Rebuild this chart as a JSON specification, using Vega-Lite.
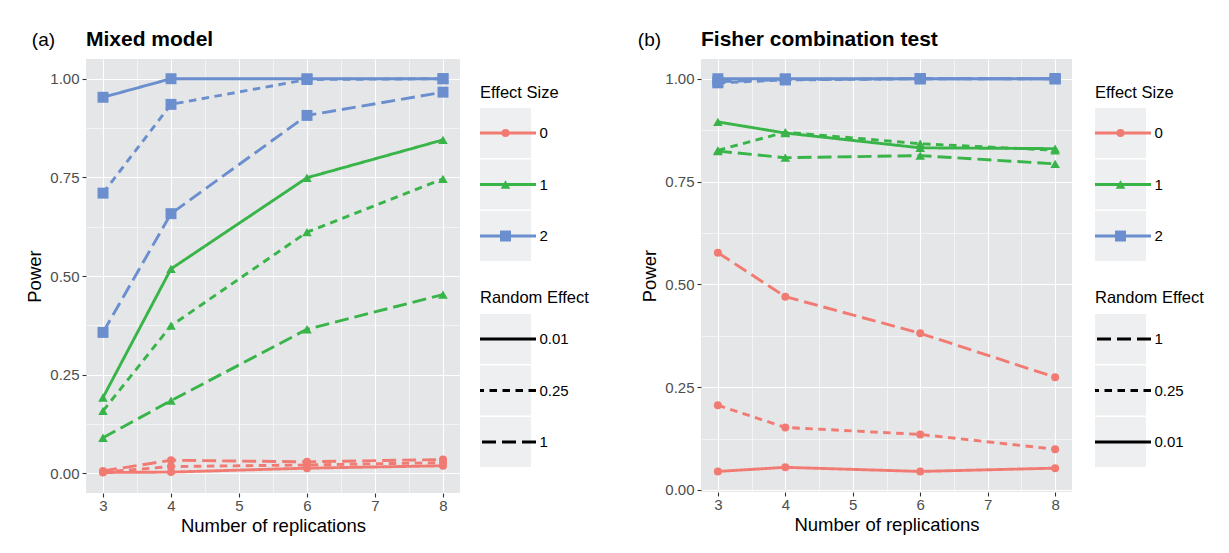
{
  "$schema": "https://vega.github.io/schema/vega-lite/v6.json",
  "background": "white",
  "padding": {"left": 25, "top": 29, "right": 5, "bottom": 5},
  "spacing": 48,
  "config": {
    "font": "Liberation Sans",
    "view": {"stroke": null},
    "axis": {
      "labelFont": "Liberation Sans",
      "titleFont": "Liberation Sans",
      "labelColor": "#4D4D4D",
      "labelFontSize": 15,
      "titleFontSize": 18.5,
      "titleFontWeight": "normal",
      "titleColor": "black",
      "tickColor": "#333333",
      "tickSize": 4,
      "tickWidth": 1.1,
      "domain": false,
      "gridColor": "white"
    },
    "title": {"color": "black", "font": "Liberation Sans"}
  },
  "datasets": {
    "power": [
      {"panel": "a", "es": "2", "re": "0.01", "n": 3, "power": 0.953},
      {"panel": "a", "es": "2", "re": "0.01", "n": 4, "power": 1.0},
      {"panel": "a", "es": "2", "re": "0.01", "n": 6, "power": 1.0},
      {"panel": "a", "es": "2", "re": "0.01", "n": 8, "power": 1.0},
      {"panel": "a", "es": "2", "re": "0.25", "n": 3, "power": 0.71},
      {"panel": "a", "es": "2", "re": "0.25", "n": 4, "power": 0.935},
      {"panel": "a", "es": "2", "re": "0.25", "n": 6, "power": 0.998},
      {"panel": "a", "es": "2", "re": "0.25", "n": 8, "power": 1.0},
      {"panel": "a", "es": "2", "re": "1", "n": 3, "power": 0.357},
      {"panel": "a", "es": "2", "re": "1", "n": 4, "power": 0.658},
      {"panel": "a", "es": "2", "re": "1", "n": 6, "power": 0.907},
      {"panel": "a", "es": "2", "re": "1", "n": 8, "power": 0.966},
      {"panel": "a", "es": "1", "re": "0.01", "n": 3, "power": 0.192},
      {"panel": "a", "es": "1", "re": "0.01", "n": 4, "power": 0.518},
      {"panel": "a", "es": "1", "re": "0.01", "n": 6, "power": 0.749},
      {"panel": "a", "es": "1", "re": "0.01", "n": 8, "power": 0.845},
      {"panel": "a", "es": "1", "re": "0.25", "n": 3, "power": 0.158},
      {"panel": "a", "es": "1", "re": "0.25", "n": 4, "power": 0.374},
      {"panel": "a", "es": "1", "re": "0.25", "n": 6, "power": 0.611},
      {"panel": "a", "es": "1", "re": "0.25", "n": 8, "power": 0.746},
      {"panel": "a", "es": "1", "re": "1", "n": 3, "power": 0.09},
      {"panel": "a", "es": "1", "re": "1", "n": 4, "power": 0.184},
      {"panel": "a", "es": "1", "re": "1", "n": 6, "power": 0.365},
      {"panel": "a", "es": "1", "re": "1", "n": 8, "power": 0.453},
      {"panel": "a", "es": "0", "re": "0.01", "n": 3, "power": 0.002},
      {"panel": "a", "es": "0", "re": "0.01", "n": 4, "power": 0.003},
      {"panel": "a", "es": "0", "re": "0.01", "n": 6, "power": 0.013},
      {"panel": "a", "es": "0", "re": "0.01", "n": 8, "power": 0.019},
      {"panel": "a", "es": "0", "re": "0.25", "n": 3, "power": 0.003},
      {"panel": "a", "es": "0", "re": "0.25", "n": 4, "power": 0.017},
      {"panel": "a", "es": "0", "re": "0.25", "n": 6, "power": 0.021},
      {"panel": "a", "es": "0", "re": "0.25", "n": 8, "power": 0.027},
      {"panel": "a", "es": "0", "re": "1", "n": 3, "power": 0.006},
      {"panel": "a", "es": "0", "re": "1", "n": 4, "power": 0.033},
      {"panel": "a", "es": "0", "re": "1", "n": 6, "power": 0.029},
      {"panel": "a", "es": "0", "re": "1", "n": 8, "power": 0.035},
      {"panel": "b", "es": "2", "re": "0.01", "n": 3, "power": 1.0},
      {"panel": "b", "es": "2", "re": "0.01", "n": 4, "power": 1.0},
      {"panel": "b", "es": "2", "re": "0.01", "n": 6, "power": 1.0},
      {"panel": "b", "es": "2", "re": "0.01", "n": 8, "power": 1.0},
      {"panel": "b", "es": "2", "re": "0.25", "n": 3, "power": 0.99},
      {"panel": "b", "es": "2", "re": "0.25", "n": 4, "power": 0.997},
      {"panel": "b", "es": "2", "re": "0.25", "n": 6, "power": 1.0},
      {"panel": "b", "es": "2", "re": "0.25", "n": 8, "power": 1.0},
      {"panel": "b", "es": "2", "re": "1", "n": 3, "power": 0.993},
      {"panel": "b", "es": "2", "re": "1", "n": 4, "power": 0.998},
      {"panel": "b", "es": "2", "re": "1", "n": 6, "power": 1.0},
      {"panel": "b", "es": "2", "re": "1", "n": 8, "power": 1.0},
      {"panel": "b", "es": "1", "re": "0.01", "n": 3, "power": 0.895},
      {"panel": "b", "es": "1", "re": "0.01", "n": 4, "power": 0.868},
      {"panel": "b", "es": "1", "re": "0.01", "n": 6, "power": 0.832},
      {"panel": "b", "es": "1", "re": "0.01", "n": 8, "power": 0.83},
      {"panel": "b", "es": "1", "re": "0.25", "n": 3, "power": 0.826},
      {"panel": "b", "es": "1", "re": "0.25", "n": 4, "power": 0.87},
      {"panel": "b", "es": "1", "re": "0.25", "n": 6, "power": 0.842},
      {"panel": "b", "es": "1", "re": "0.25", "n": 8, "power": 0.826},
      {"panel": "b", "es": "1", "re": "1", "n": 3, "power": 0.824},
      {"panel": "b", "es": "1", "re": "1", "n": 4, "power": 0.808},
      {"panel": "b", "es": "1", "re": "1", "n": 6, "power": 0.813},
      {"panel": "b", "es": "1", "re": "1", "n": 8, "power": 0.793},
      {"panel": "b", "es": "0", "re": "0.01", "n": 3, "power": 0.045},
      {"panel": "b", "es": "0", "re": "0.01", "n": 4, "power": 0.055},
      {"panel": "b", "es": "0", "re": "0.01", "n": 6, "power": 0.045},
      {"panel": "b", "es": "0", "re": "0.01", "n": 8, "power": 0.053},
      {"panel": "b", "es": "0", "re": "0.25", "n": 3, "power": 0.206},
      {"panel": "b", "es": "0", "re": "0.25", "n": 4, "power": 0.152},
      {"panel": "b", "es": "0", "re": "0.25", "n": 6, "power": 0.135},
      {"panel": "b", "es": "0", "re": "0.25", "n": 8, "power": 0.099},
      {"panel": "b", "es": "0", "re": "1", "n": 3, "power": 0.577},
      {"panel": "b", "es": "0", "re": "1", "n": 4, "power": 0.47},
      {"panel": "b", "es": "0", "re": "1", "n": 6, "power": 0.381},
      {"panel": "b", "es": "0", "re": "1", "n": 8, "power": 0.274}
    ],
    "esRows": [{"es": "0"}, {"es": "1"}, {"es": "2"}],
    "reRows": [{"re": "0.01"}, {"re": "0.25"}, {"re": "1"}]
  },
  "hconcat": [
    {
      "title": {"text": "(a)", "anchor": "start", "frame": "bounds", "fontSize": 19, "fontWeight": "normal", "baseline": "alphabetic", "offset": -36, "dx": 6},
      "spacing": 18,
      "hconcat": [
        {
          "width": 374,
          "height": 434,
          "view": {"fill": "#E5E6E8", "stroke": null},
          "title": {"text": "Mixed model", "anchor": "start", "frame": "group", "fontSize": 21, "fontWeight": "bold", "baseline": "alphabetic", "offset": -8},
          "data": {"name": "power"},
          "transform": [{"filter": "datum.panel === 'a'"}],
          "encoding": {
            "x": {"field": "n", "type": "quantitative",
              "scale": {"domain": [2.75, 8.25], "nice": false, "zero": false},
              "axis": {"values": [3, 3.5, 4, 4.5, 5, 5.5, 6, 6.5, 7, 7.5, 8], "title": "Number of replications",
                "labelExpr": "datum.value % 1 === 0 ? format(datum.value, 'd') : ''",
                "gridWidth": {"condition": {"test": "datum.value % 1 !== 0", "value": 0.55}, "value": 1.1},
                "tickOpacity": {"condition": {"test": "datum.value % 1 !== 0", "value": 0}, "value": 1},
                "labelPadding": 1, "titlePadding": 3, "grid": true, "labelFlush": false}},
            "y": {"field": "power", "type": "quantitative",
              "scale": {"domain": [-0.05, 1.05], "nice": false, "zero": false},
              "axis": {"values": [0, 0.125, 0.25, 0.375, 0.5, 0.625, 0.75, 0.875, 1], "title": "Power",
                "labelExpr": "(datum.value * 4) % 1 === 0 ? format(datum.value, '.2f') : ''",
                "gridWidth": {"condition": {"test": "(datum.value * 4) % 1 !== 0", "value": 0.55}, "value": 1.1},
                "tickOpacity": {"condition": {"test": "(datum.value * 4) % 1 !== 0", "value": 0}, "value": 1},
                "labelPadding": 3, "titlePadding": 5, "grid": true, "labelFlush": false}}
          },
          "layer": [
            {"mark": {"type": "line", "strokeWidth": 2.9, "strokeJoin": "round"},
              "encoding": {
                "color": {"field": "es", "type": "nominal", "scale": {"domain": ["0", "1", "2"], "range": ["#F17B72", "#38B449", "#6B8ECE"]}, "legend": null},
                "strokeDash": {"field": "re", "type": "nominal", "scale": {"domain": ["0.01", "0.25", "1"], "range": [[1, 0], [7.5, 5.5], [14, 6]]}, "legend": null}
              }},
            {"mark": {"type": "point", "filled": true, "opacity": 1, "strokeWidth": 0},
              "encoding": {
                "color": {"field": "es", "type": "nominal", "scale": {"domain": ["0", "1", "2"], "range": ["#F17B72", "#38B449", "#6B8ECE"]}, "legend": null},
                "shape": {"field": "es", "type": "nominal", "scale": {"domain": ["0", "1", "2"], "range": ["circle", "triangle-up", "square"]}, "legend": null},
                "size": {"field": "es", "type": "nominal", "scale": {"domain": ["0", "1", "2"], "range": [64, 120, 78]}, "legend": null}
              }}
          ]
        },
        {
          "spacing": 28,
          "vconcat": [
            {
              "width": 51,
              "height": 202,
              "data": {"name": "esRows"},
              "title": {"text": "Effect Size", "anchor": "start", "frame": "group", "fontSize": 16.5, "fontWeight": "normal", "baseline": "alphabetic", "offset": -55},
              "encoding": {
                "y": {"field": "es", "type": "nominal", "scale": {"domain": ["0", "1", "2"], "range": [49, 202], "paddingInner": 0.03, "paddingOuter": 0},
                  "axis": {"orient": "right", "title": null, "ticks": false, "domain": false, "grid": false, "labelPadding": 8, "labelFontSize": 15, "labelColor": "black"}}
              },
              "layer": [
                {"mark": {"type": "rect", "color": "#EEEFF0"}},
                {"mark": {"type": "rule", "strokeWidth": 2.8, "xOffset": 5, "x2Offset": -5},
                  "encoding": {"color": {"field": "es", "type": "nominal", "scale": {"domain": ["0", "1", "2"], "range": ["#F17B72", "#38B449", "#6B8ECE"]}, "legend": null}}},
                {"mark": {"type": "point", "filled": true, "opacity": 1, "strokeWidth": 0},
                  "encoding": {
                    "color": {"field": "es", "type": "nominal", "scale": {"domain": ["0", "1", "2"], "range": ["#F17B72", "#38B449", "#6B8ECE"]}, "legend": null},
                    "shape": {"field": "es", "type": "nominal", "scale": {"domain": ["0", "1", "2"], "range": ["circle", "triangle-up", "square"]}, "legend": null},
                    "size": {"field": "es", "type": "nominal", "scale": {"domain": ["0", "1", "2"], "range": [64, 120, 78]}, "legend": null}
                  }}
              ]
            },
            {
              "width": 51,
              "height": 153,
              "data": {"name": "reRows"},
              "title": {"text": "Random Effect", "anchor": "start", "frame": "group", "fontSize": 16.5, "fontWeight": "normal", "baseline": "alphabetic", "offset": -5},
              "encoding": {
                "y": {"field": "re", "type": "nominal", "scale": {"domain": ["0.01", "0.25", "1"], "paddingInner": 0.03, "paddingOuter": 0},
                  "axis": {"orient": "right", "title": null, "ticks": false, "domain": false, "grid": false, "labelPadding": 8, "labelFontSize": 15, "labelColor": "black"}}
              },
              "layer": [
                {"mark": {"type": "rect", "color": "#EEEFF0"}},
                {"mark": {"type": "rule", "strokeWidth": 2.8, "color": "black", "xOffset": 5, "x2Offset": -5},
                  "encoding": {"strokeDash": {"field": "re", "type": "nominal", "scale": {"domain": ["0.01", "0.25", "1"], "range": [[1, 0], [7.5, 5.5], [14, 6]]}, "legend": null}}}
              ]
            }
          ]
        }
      ]
    },
    {
      "title": {"text": "(b)", "anchor": "start", "frame": "bounds", "fontSize": 19, "fontWeight": "normal", "baseline": "alphabetic", "offset": -36, "dx": -3},
      "spacing": 21,
      "hconcat": [
        {
          "width": 371,
          "height": 433,
          "view": {"fill": "#E5E6E8", "stroke": null},
          "title": {"text": "Fisher combination test", "anchor": "start", "frame": "group", "fontSize": 21, "fontWeight": "bold", "baseline": "alphabetic", "offset": -8},
          "data": {"name": "power"},
          "transform": [{"filter": "datum.panel === 'b'"}],
          "encoding": {
            "x": {"field": "n", "type": "quantitative",
              "scale": {"domain": [2.75, 8.25], "nice": false, "zero": false},
              "axis": {"values": [3, 3.5, 4, 4.5, 5, 5.5, 6, 6.5, 7, 7.5, 8], "title": "Number of replications",
                "labelExpr": "datum.value % 1 === 0 ? format(datum.value, 'd') : ''",
                "gridWidth": {"condition": {"test": "datum.value % 1 !== 0", "value": 0.55}, "value": 1.1},
                "tickOpacity": {"condition": {"test": "datum.value % 1 !== 0", "value": 0}, "value": 1},
                "labelPadding": 1, "titlePadding": 3, "grid": true, "labelFlush": false}},
            "y": {"field": "power", "type": "quantitative",
              "scale": {"domain": [-0.005, 1.048], "nice": false, "zero": false},
              "axis": {"values": [0, 0.125, 0.25, 0.375, 0.5, 0.625, 0.75, 0.875, 1], "title": "Power",
                "labelExpr": "(datum.value * 4) % 1 === 0 ? format(datum.value, '.2f') : ''",
                "gridWidth": {"condition": {"test": "(datum.value * 4) % 1 !== 0", "value": 0.55}, "value": 1.1},
                "tickOpacity": {"condition": {"test": "(datum.value * 4) % 1 !== 0", "value": 0}, "value": 1},
                "labelPadding": 3, "titlePadding": 5, "grid": true, "labelFlush": false}}
          },
          "layer": [
            {"mark": {"type": "line", "strokeWidth": 2.9, "strokeJoin": "round"},
              "encoding": {
                "color": {"field": "es", "type": "nominal", "scale": {"domain": ["0", "1", "2"], "range": ["#F17B72", "#38B449", "#6B8ECE"]}, "legend": null},
                "strokeDash": {"field": "re", "type": "nominal", "scale": {"domain": ["0.01", "0.25", "1"], "range": [[1, 0], [7.5, 5.5], [14, 6]]}, "legend": null}
              }},
            {"mark": {"type": "point", "filled": true, "opacity": 1, "strokeWidth": 0},
              "encoding": {
                "color": {"field": "es", "type": "nominal", "scale": {"domain": ["0", "1", "2"], "range": ["#F17B72", "#38B449", "#6B8ECE"]}, "legend": null},
                "shape": {"field": "es", "type": "nominal", "scale": {"domain": ["0", "1", "2"], "range": ["circle", "triangle-up", "square"]}, "legend": null},
                "size": {"field": "es", "type": "nominal", "scale": {"domain": ["0", "1", "2"], "range": [64, 120, 78]}, "legend": null}
              }}
          ]
        },
        {
          "spacing": 28,
          "vconcat": [
            {
              "width": 51,
              "height": 202,
              "data": {"name": "esRows"},
              "title": {"text": "Effect Size", "anchor": "start", "frame": "group", "fontSize": 16.5, "fontWeight": "normal", "baseline": "alphabetic", "offset": -55},
              "encoding": {
                "y": {"field": "es", "type": "nominal", "scale": {"domain": ["0", "1", "2"], "range": [49, 202], "paddingInner": 0.03, "paddingOuter": 0},
                  "axis": {"orient": "right", "title": null, "ticks": false, "domain": false, "grid": false, "labelPadding": 8, "labelFontSize": 15, "labelColor": "black"}}
              },
              "layer": [
                {"mark": {"type": "rect", "color": "#EEEFF0"}},
                {"mark": {"type": "rule", "strokeWidth": 2.8, "xOffset": 5, "x2Offset": -5},
                  "encoding": {"color": {"field": "es", "type": "nominal", "scale": {"domain": ["0", "1", "2"], "range": ["#F17B72", "#38B449", "#6B8ECE"]}, "legend": null}}},
                {"mark": {"type": "point", "filled": true, "opacity": 1, "strokeWidth": 0},
                  "encoding": {
                    "color": {"field": "es", "type": "nominal", "scale": {"domain": ["0", "1", "2"], "range": ["#F17B72", "#38B449", "#6B8ECE"]}, "legend": null},
                    "shape": {"field": "es", "type": "nominal", "scale": {"domain": ["0", "1", "2"], "range": ["circle", "triangle-up", "square"]}, "legend": null},
                    "size": {"field": "es", "type": "nominal", "scale": {"domain": ["0", "1", "2"], "range": [64, 120, 78]}, "legend": null}
                  }}
              ]
            },
            {
              "width": 51,
              "height": 153,
              "data": {"name": "reRows"},
              "title": {"text": "Random Effect", "anchor": "start", "frame": "group", "fontSize": 16.5, "fontWeight": "normal", "baseline": "alphabetic", "offset": -5},
              "encoding": {
                "y": {"field": "re", "type": "nominal", "scale": {"domain": ["1", "0.25", "0.01"], "paddingInner": 0.03, "paddingOuter": 0},
                  "axis": {"orient": "right", "title": null, "ticks": false, "domain": false, "grid": false, "labelPadding": 8, "labelFontSize": 15, "labelColor": "black"}}
              },
              "layer": [
                {"mark": {"type": "rect", "color": "#EEEFF0"}},
                {"mark": {"type": "rule", "strokeWidth": 2.8, "color": "black", "xOffset": 5, "x2Offset": -5},
                  "encoding": {"strokeDash": {"field": "re", "type": "nominal", "scale": {"domain": ["0.01", "0.25", "1"], "range": [[1, 0], [7.5, 5.5], [14, 6]]}, "legend": null}}}
              ]
            }
          ]
        }
      ]
    }
  ]
}
